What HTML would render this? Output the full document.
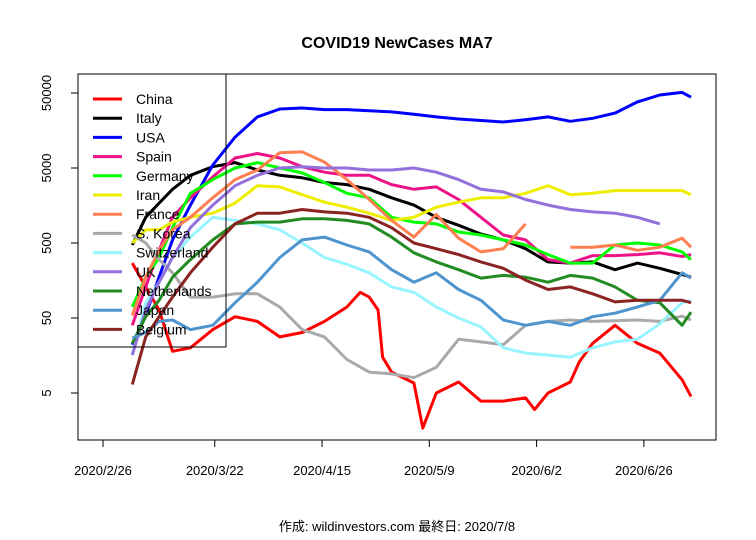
<!DOCTYPE html>
<html><head><meta charset="utf-8">
<style>
html,body{margin:0;padding:0;background:#fff;}
svg{display:block;font-family:"Liberation Sans","Noto Sans CJK JP",sans-serif;}
</style></head>
<body>
<svg id="chart" width="756" height="540" viewBox="0 0 756 540">
<text x="397" y="48" text-anchor="middle" font-size="16" font-weight="bold">COVID19 NewCases MA7</text>
<rect x="78" y="74" width="638" height="366" fill="none" stroke="#000" stroke-width="1"/>
<g id="series"></g>
<g id="axes"></g>
<g id="legend"></g>
<text x="397" y="531" text-anchor="middle" font-size="13">作成: wildinvestors.com 最終日: 2020/7/8</text>
</svg>
<script>
const days = [7,10,13,16,20,25,30,35,40,45,50,55,60,65,70,75,80,85,90,95,100,105,110,115,120,125,130,132];
const chinaDays = [7,10,13,16,20,25,30,35,40,45,50,55,58,60,62,63,65,70,72,75,80,85,90,95,97,100,105,107,110,115,120,125,130,132];
const china = [270,130,64,18,20,35,52,45,28,32,45,70,110,95,64,15,9.5,6.8,1.7,5,7,3.9,3.9,4.3,3,5,7,13,23,40,23,17,7.5,4.5];
const italy = [470,1100,1700,2600,4000,5200,5900,4700,4000,3700,3200,3000,2600,2000,1600,1100,860,660,550,420,280,270,280,220,270,230,190,175];
const usa = [22,55,176,548,1600,5480,12900,24000,30600,31500,30000,30000,29000,28000,26000,24000,22500,21500,20500,22000,24000,21000,23000,27000,38000,47000,51000,44000];
const spain = [40,130,400,1100,2000,3800,6800,7800,6800,5200,4400,4000,4000,3000,2600,2800,1900,1100,640,550,300,270,340,340,350,370,330,350];
const germany = [70,175,320,800,2300,3500,5000,5900,5000,4300,3200,2300,2000,1100,950,900,700,640,550,470,350,270,270,470,500,470,380,300];
const iran = [500,750,750,950,1100,1250,1700,2900,2800,2200,1750,1500,1250,1000,1100,1500,1750,2000,2000,2300,2900,2200,2300,2500,2500,2500,2500,2200];
const france = [54,175,400,750,1100,2000,3500,4700,8000,8200,6000,3500,1900,1000,600,1200,580,380,420,900,null,440,440,470,400,440,580,440];
const skorea = [640,500,300,200,95,95,105,105,70,35,28,14,9.5,9,8,11,26,24,22,40,45,47,45,46,47,45,53,47];
const switzerland = [16,80,150,320,600,1100,1000,900,750,500,320,260,200,130,110,70,50,38,20,17,16,15,20,24,26,42,80,86];
const uk = [16,64,150,320,800,1600,2900,4000,5000,5200,5000,5000,4700,4700,5000,4400,3500,2600,2400,1900,1600,1400,1300,1250,1100,900,null,null];
const netherlands = [23,52,86,175,300,550,900,950,950,1050,1050,1000,900,600,370,280,220,170,185,175,150,185,170,130,86,80,40,60];
const japan = [27,32,45,47,35,40,80,150,320,550,600,470,380,220,150,200,120,86,47,40,45,40,52,58,70,86,200,170];
const belgium = [6.5,28,52,95,200,440,900,1250,1250,1400,1300,1250,1100,800,500,420,350,280,230,160,120,130,105,82,86,86,86,80];
const names = ["China","Italy","USA","Spain","Germany","Iran","France","S. Korea","Switzerland","UK","Netherlands","Japan","Belgium"];
const colors = ["#ff0000","#000000","#0000ff","#ee1289","#00ff00","#eeee00","#ff7f50","#a9a9a9","#98f5ff","#9370db","#228b22","#4f94cd","#8b2323"];
const yTicks = [5,50,500,5000,50000];
const xTickDays = [0,25,49,73,97,121];
const xTickLabels = ["2020/2/26","2020/3/22","2020/4/15","2020/5/9","2020/6/2","2020/6/26"];

const NS = "http://www.w3.org/2000/svg";
function xs(d){ return 101 + d*4.47; }
function ys(v){ return 93 + 75*(Math.log10(50000) - Math.log10(v)); }
function mk(tag, attrs, parent){ const e=document.createElementNS(NS,tag); for(const k in attrs) e.setAttribute(k,attrs[k]); parent.appendChild(e); return e; }

const seriesData = [china,italy,usa,spain,germany,iran,france,skorea,switzerland,uk,netherlands,japan,belgium];
const sg = document.getElementById('series');
seriesData.forEach((vals,i)=>{
  const dd = i===0 ? chinaDays : days;
  let d=""; let pen=false;
  vals.forEach((v,j)=>{
    if(v==null){ pen=false; return; }
    d += (pen?"L":"M") + xs(dd[j]).toFixed(1) + " " + ys(v).toFixed(1) + " ";
    pen=true;
  });
  const p = mk('path',{d:d,fill:'none',stroke:colors[i],'stroke-width':3,'stroke-linejoin':'round'},sg);
  
  
});

const ag = document.getElementById('axes');
yTicks.forEach(v=>{
  const y = ys(v);
  const t = mk('line',{x1:71,x2:78,y1:y,y2:y,stroke:'#000'},ag);
  
  
  const tx = mk('text',{x:0,y:0,'font-size':13,'text-anchor':'middle',transform:`translate(51 ${y}) rotate(-90)`},ag);
  tx.textContent = String(v);
  
  
});
xTickDays.forEach((d,i)=>{
  const x = xs(d)+2;
  const t = mk('line',{x1:x,x2:x,y1:440,y2:447,stroke:'#000'},ag);
  
  
  const tx = mk('text',{x:x,y:475,'font-size':13,'text-anchor':'middle'},ag);
  tx.textContent = xTickLabels[i];
  
  
});

const lg = document.getElementById('legend');
const lb = mk('rect',{x:78,y:74,width:148,height:273,fill:'none',stroke:'#000'},lg);


names.forEach((n,i)=>{
  const y = 99 + i*19.2;
  const l = mk('line',{x1:93,x2:122,y1:y,y2:y,stroke:colors[i],'stroke-width':3},lg);
  
  
  const t = mk('text',{x:136,y:y+5,'font-size':14},lg);
  t.textContent = n;
  
  
});
</script>
</body></html>
